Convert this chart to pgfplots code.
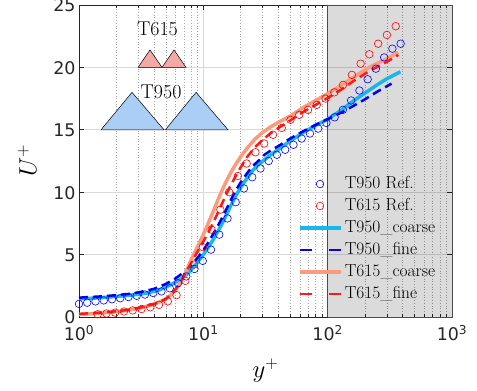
\documentclass[border=0pt]{standalone}
\usepackage{fontspec}
\usepackage{pgfplots}
\pgfplotsset{compat=1.18}
\newfontfamily\tickfont{DejaVu Sans}
\definecolor{c950c}{RGB}{25,182,235}
\definecolor{c950f}{RGB}{0,0,240}
\definecolor{c615c}{RGB}{250,155,125}
\definecolor{c615f}{RGB}{255,25,25}
\definecolor{tri615}{RGB}{245,168,168}
\definecolor{tri950}{RGB}{170,206,246}
\begin{document}
\begin{tikzpicture}
\begin{axis}[
  at={(0,0)}, anchor=south west,
  scale only axis, width=373bp, height=312bp,
  xmode=log, xmin=1, xmax=1000, ymin=0, ymax=25,
  clip=false,
  xtick={1,10,100,1000},
  xticklabels={10\textsuperscript{0},10\textsuperscript{1},10\textsuperscript{2},10\textsuperscript{3}},
  minor xtick={2,3,4,5,6,7,8,9,20,30,40,50,60,70,80,90,200,300,400,500,600,700,800,900},
  ytick={0,5,10,15,20,25},
  yticklabels={0,5,10,15,20,25},
  ticklabel style={font=\tickfont\fontsize{17.5}{17.5}\selectfont, text=black!85},
  xticklabel style={yshift=-5bp},
  yticklabel style={yshift=-0.5bp},
  xmajorgrids, ymajorgrids, xminorgrids,
  major grid style={black!15, line width=0.7bp},
  minor grid style={black!35, line width=0.7bp, dotted},
  tick align=inside, tick pos=both,
  major tick length=5bp, minor tick length=3bp,
  axis line style={black!85, line width=0.8bp},
  tick style={black!85, line width=0.6bp},
  xlabel={$y^+$}, ylabel={$U^+$},
  label style={font=\fontsize{24}{24}\selectfont},
  xlabel style={at={(axis description cs:0.5,-0.173)}, anchor=center},
  ylabel style={at={(axis description cs:-0.139,0.5)}, anchor=center},
  legend style={draw=none, fill=none, font=\fontsize{17.5}{20}\selectfont,
    at={(axis description cs:0.772,0.25)}, anchor=center,
    row sep=4bp, column sep=1.5bp,
    nodes={inner sep=1bp, text height=12bp, text depth=4bp}},
  legend cell align=left,
  legend image code/.code={\draw[mark repeat=2,mark phase=2,#1] plot coordinates {(0bp,0bp)(20.5bp,0bp)(41bp,0bp)};},
]
% shaded region
\addplot[forget plot, draw=black!70, line width=0.7bp, fill=black, fill opacity=0.14]
  coordinates {(100,0)(100,25)(1000,25)(1000,0)(100,0)};
% triangles
\addplot[forget plot, fill=tri615, draw=black, line width=0.5bp]
  coordinates {(2.985,20)(3.726,21.4)(4.65,20)(2.985,20)};
\addplot[forget plot, fill=tri615, draw=black, line width=0.5bp]
  coordinates {(4.65,20)(5.81,21.4)(7.26,20)(4.65,20)};
\addplot[forget plot, fill=tri950, draw=black, line width=0.5bp]
  coordinates {(1.503,15)(2.669,18)(4.83,15)(1.503,15)};
\addplot[forget plot, fill=tri950, draw=black, line width=0.5bp]
  coordinates {(4.95,15)(8.74,18)(15.8,15)(4.95,15)};
\node[font=\fontsize{20}{20}\selectfont] at (axis cs:4.28,23.05) {T615};
\node[font=\fontsize{20}{20}\selectfont] at (axis cs:4.57,18.0) {T950};
% T950 Ref
\addplot[only marks, mark=o, mark size=3.8bp, color=blue, mark options={line width=0.6bp}] coordinates {
(1.000,1.05)(1.165,1.15)(1.357,1.25)(1.581,1.33)(1.842,1.42)(2.146,1.5)(2.50,1.6)(2.912,1.7)
(3.394,1.8)(3.954,1.92)(4.606,2.05)(5.367,2.3)(6.252,2.7)(7.285,3.25)(8.487,3.85)(9.886,4.5)
(11.52,5.4)(13.42,6.6)(15.63,7.9)(18.21,9.2)(21.22,10.3)(24.72,11.2)(28.80,11.9)(33.55,12.5)
(39.08,13.0)(45.53,13.4)(53.05,13.8)(61.80,14.3)(72.00,14.7)(83.88,15.1)(97.72,15.55)(113.8,16.0)
(132.6,16.6)(154.5,17.35)(180.0,18.15)(209.7,19.05)(244.3,19.9)(284.6,20.8)(331.6,21.5)(386.4,21.9)};
% T615 Ref
\addplot[only marks, mark=o, mark size=3.8bp, color=red, mark options={line width=0.6bp}] coordinates {
(1.413,0.22)(1.662,0.28)(1.954,0.35)(2.299,0.44)(2.704,0.53)(3.181,0.64)(3.741,0.78)(4.401,0.97)
(5.176,1.25)(6.089,1.75)(7.161,2.9)(8.425,4.2)(9.908,5.6)(11.65,7.0)(13.71,8.6)(16.13,10.0)
(18.97,11.3)(22.31,12.3)(26.24,13.2)(30.87,13.9)(36.31,14.6)(42.71,15.15)(50.23,15.8)(59.09,16.2)
(69.50,16.6)(81.75,17.0)(96.16,17.5)(113.1,18.0)(133.0,18.6)(156.5,19.4)(184.1,20.3)(216.5,21.05)
(254.7,21.9)(299.6,22.6)(352.4,23.3)};
% T950 coarse
\addplot[no marks, color=c950c, line width=3.5bp] coordinates {
(1,1.45)(1.25,1.5)(1.5,1.55)(2,1.65)(2.5,1.73)(3,1.82)(3.5,1.92)(4,2.05)(4.5,2.2)(5,2.4)(5.5,2.6)
(6,2.8)(6.5,3.0)(7,3.25)(7.5,3.5)(8,3.8)(8.5,4.1)(9,4.4)(9.5,4.7)(10,5.0)(11,5.6)(12,6.2)(13,6.8)
(14,7.4)(15,8.0)(16.5,8.85)(18,9.6)(20,10.4)(22.4,11.1)(25,11.75)(28,12.25)(31,12.6)(34.4,12.95)
(41,13.5)(50,14.1)(64,14.8)(80,15.35)(100,15.85)(130,16.6)(160,17.3)(200,17.95)(250,18.6)(300,19.1)(385,19.65)};
% T950 fine
\addplot[no marks, color=c950f, line width=2.5bp, dash pattern=on 9bp off 5bp,
  legend image post style={dash pattern=on 12bp off 17bp}] coordinates {
(1,1.55)(1.5,1.65)(2,1.75)(2.5,1.85)(3,1.97)(4,2.25)(5,2.65)(6,3.1)(7,3.6)(8,4.15)(9,4.75)(10,5.35)
(11,6.0)(12,6.65)(13,7.25)(14,7.85)(15,8.45)(16.5,9.3)(18,10.05)(20,10.8)(22.4,11.5)(25,12.1)
(28,12.55)(31,13.0)(35,13.35)(41,13.75)(50,14.3)(64,14.9)(80,15.4)(100,15.85)(130,16.4)(160,16.9)
(200,17.45)(250,18.05)(326,18.7)};
% T615 coarse
\addplot[no marks, color=c615c, line width=3.5bp] coordinates {
(1,0.2)(1.5,0.3)(2,0.42)(2.5,0.55)(3,0.7)(3.5,0.86)(4,1.03)(4.5,1.23)(5,1.47)(5.5,1.78)(6,2.2)
(6.5,2.7)(7,3.3)(7.5,3.95)(8,4.6)(9,5.65)(10,6.6)(11,7.55)(12,8.45)(13,9.3)(14,10.05)
(15,10.7)(16.5,11.5)(18,12.15)(20,12.85)(22.4,13.5)(26,14.25)(30,14.8)(35,15.25)(41,15.65)(50,16.1)
(64,16.8)(80,17.35)(100,17.9)(130,18.6)(161,19.2)(220,20.05)(300,20.7)(370,21.2)};
% T615 fine
\addplot[no marks, color=c615f, line width=2.5bp, dash pattern=on 9bp off 5bp,
  legend image post style={dash pattern=on 12bp off 17bp}] coordinates {
(1,0.25)(1.5,0.35)(2,0.46)(2.5,0.58)(3,0.72)(3.5,0.87)(4,1.04)(4.5,1.23)(5,1.45)(5.5,1.8)(6,2.25)
(6.5,2.75)(7,3.3)(7.5,3.85)(8,4.35)(9,5.25)(10,6.05)(11,6.8)(12,7.55)(13,8.3)(14,9.0)(15.4,9.9)
(16.5,10.5)(18,11.2)(20,12.0)(22.4,12.8)(26,13.6)(30,14.2)(35,14.75)(41,15.2)(50,15.75)(64,16.45)
(80,17.0)(100,17.55)(130,18.25)(161,18.9)(220,19.75)(300,20.45)(370,21.0)};
\legend{T950 Ref., T615 Ref., T950\_coarse, T950\_fine, T615\_coarse, T615\_fine}
\end{axis}
\pgfresetboundingbox
\path[use as bounding box] (-79bp,-74bp) rectangle (398bp,317bp);
\end{tikzpicture}
\end{document}
